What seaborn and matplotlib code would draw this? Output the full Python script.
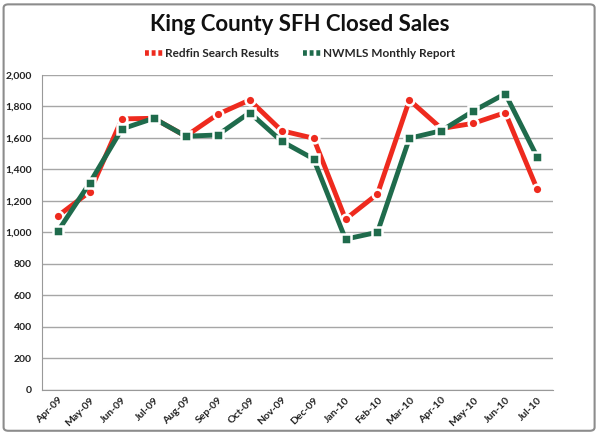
import numpy as np
import pandas as pd
import seaborn as sns
import matplotlib.pyplot as plt
from matplotlib.lines import Line2D
from matplotlib.patches import FancyBboxPatch
from matplotlib.ticker import FuncFormatter, MultipleLocator

months = ["Apr-09", "May-09", "Jun-09", "Jul-09", "Aug-09", "Sep-09", "Oct-09", "Nov-09",
          "Dec-09", "Jan-10", "Feb-10", "Mar-10", "Apr-10", "May-10", "Jun-10", "Jul-10"]
redfin = [1105, 1259, 1721, 1725, 1611, 1750, 1841, 1646,
          1598, 1084, 1244, 1841, 1660, 1693, 1761, 1274]
nwmls = [1008, 1316, 1657, 1725, 1611, 1619, 1761, 1579,
         1467, 957, 1001, 1598, 1646, 1771, 1881, 1479]

red = "#ee2a1e"
green = "#1f6b4c"

df = pd.DataFrame({"pos": np.arange(len(months)), "Redfin": redfin, "NWMLS": nwmls})

sns.set_style("white")
plt.rcParams["font.family"] = ["Lato", "DejaVu Sans"]

fig = plt.figure(figsize=(6, 4.36), dpi=100)
ax = fig.add_axes([0.07, 0.106, 0.852, 0.722])

sns.lineplot(data=df, x="pos", y="Redfin", ax=ax, color=red, lw=3.5, marker="o",
             markersize=7, markeredgecolor="white", markeredgewidth=1.8, zorder=3)
sns.lineplot(data=df, x="pos", y="NWMLS", ax=ax, color=green, lw=3.5, marker="s",
             markersize=7, markeredgecolor="white", markeredgewidth=1.8, zorder=4)

ax.set_xlim(-0.5, len(months) - 0.5)
ax.set_ylim(0, 2000)
ax.yaxis.set_major_locator(MultipleLocator(200))
ax.yaxis.set_major_formatter(FuncFormatter(lambda v, p: f"{int(v):,}"))
ax.set_xticks(np.arange(len(months)))
ax.set_xticklabels(months, rotation=45, ha="right", rotation_mode="anchor",
                   fontsize=7.5, fontweight="bold", color="#222222")
ax.tick_params(axis="x", length=0, pad=4)
ax.tick_params(axis="y", labelsize=7.5, length=4, color="#999999", labelcolor="#222222")
for lab in ax.get_yticklabels():
    lab.set_fontweight("bold")
# category boundary tick marks on x-axis
ax.set_xticks(np.arange(len(months) + 1) - 0.5, minor=True)
ax.tick_params(axis="x", which="minor", length=4, color="#999999")
ax.grid(axis="y", color="#a6a6a6", lw=1)
ax.set_axisbelow(True)
ax.set_xlabel("")
ax.set_ylabel("")
for s in ["top", "right"]:
    ax.spines[s].set_visible(False)
for s in ["left", "bottom"]:
    ax.spines[s].set_color("#999999")

handles = [Line2D([0], [0], color=red, lw=4, ls=(0, (0.7, 0.5))),
           Line2D([0], [0], color=green, lw=4, ls=(0, (0.7, 0.5)))]
fig.legend(handles, ["Redfin Search Results", "NWMLS Monthly Report"], loc="center",
           bbox_to_anchor=(0.5, 0.878), ncol=2, frameon=False, handlelength=1.6,
           handletextpad=0.1, columnspacing=2.0, prop={"size": 8.5, "weight": "bold"})

fig.text(0.5, 0.943, "King County SFH Closed Sales", ha="center", va="center",
         fontsize=16, fontweight="bold", color="#111111")

border = FancyBboxPatch((0.006, 0.012), 0.985, 0.978, boxstyle="round,pad=0,rounding_size=0.008",
                        transform=fig.transFigure, fill=False, ec="#8c8c8c", lw=1.5)
fig.patches.append(border)

fig.savefig("out.png", dpi=100)
